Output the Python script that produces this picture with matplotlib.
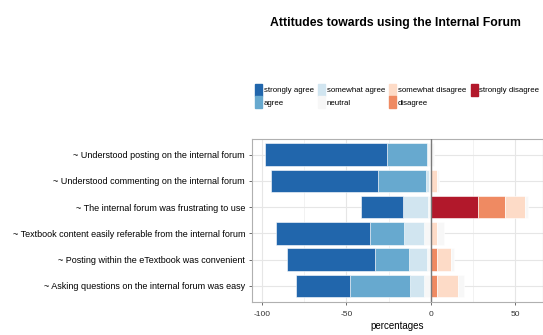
import matplotlib.pyplot as plt
import numpy as np

plt.rcParams['font.family'] = ['Liberation Sans', 'DejaVu Sans']

items = ["~ Understood posting on the internal forum",
         "~ Understood commenting on the internal forum",
         "~ The internal forum was frustrating to use",
         "~ Textbook content easily referable from the internal forum",
         "~ Posting within the eTextbook was convenient",
         "~ Asking questions on the internal forum was easy"]

levels = ["strongly agree", "agree", "somewhat agree", "neutral",
          "somewhat disagree", "disagree", "strongly disagree"]
colors = ["#2166AC", "#67A9CF", "#D1E5F0", "#F7F7F7",
          "#FDDBC7", "#EF8A62", "#B2182B"]

# percentages per item, in the order of levels
strongly_agree    = [72, 64, 25, 56, 52, 32]
agree             = [24, 28,  0, 20, 20, 36]
somewhat_agree    = [ 0,  2, 15, 12, 11,  8]
neutral           = [ 4,  2,  3,  8,  4,  8]
somewhat_disagree = [ 0,  4, 12,  4,  8, 12]
disagree          = [ 0,  0, 16,  0,  4,  4]
strongly_disagree = [ 0,  0, 28,  0,  0,  0]

fig = plt.figure(figsize=(5.43, 3.35), dpi=100)
ax = fig.add_axes([0.464, 0.100, 0.536, 0.485])

y = np.arange(len(items))[::-1] + 1
h = 0.86
na = np.array
half = na(neutral) / 2

# left side, stacked outward from zero
left_parts = [(half, colors[3]), (na(somewhat_agree), colors[2]),
              (na(agree), colors[1]), (na(strongly_agree), colors[0])]
start = np.zeros(len(items))
for vals, c in left_parts:
    ax.barh(y, -vals, left=-start, height=h, color=c, edgecolor='white', linewidth=0.4, zorder=3)
    start = start + vals

# right side, stacked outward from zero
right_parts = [(na(strongly_disagree), colors[6]), (na(disagree), colors[5]),
               (na(somewhat_disagree), colors[4]), (half, colors[3])]
start = np.zeros(len(items))
for vals, c in right_parts:
    ax.barh(y, vals, left=start, height=h, color=c, edgecolor='white', linewidth=0.4, zorder=3)
    start = start + vals

ax.axvline(0, color='#7a7a7a', lw=1.0, zorder=4)

ax.set_xlim(-106, 66.6)
ax.set_ylim(0.4, 6.6)
ax.set_xticks([-100, -50, 0, 50])
ax.set_xticklabels(["-100", "-50", "0", "50"])
ax.set_xticks([-75, -25, 25], minor=True)
ax.set_yticks(y)
ax.set_yticklabels(items, fontsize=6.5)
ax.tick_params(axis='x', labelsize=6, colors='#333333', length=2, width=0.5, pad=5)
ax.tick_params(axis='x', which='minor', length=0)
ax.tick_params(axis='y', length=2, width=0.5, colors='#333333', labelcolor='black', pad=3)
ax.grid(which='major', color='#e6e6e6', lw=0.8, zorder=0)
ax.grid(which='minor', axis='x', color='#f0f0f0', lw=0.6, zorder=0)
for s in ax.spines.values():
    s.set_color('#b0b0b0')
    s.set_linewidth(0.8)
ax.set_xlabel("percentages", fontsize=7, labelpad=2)

handles = [plt.Rectangle((0, 0), 1, 1, color=c) for c in colors]
fig.legend(handles, levels, loc='upper left', bbox_to_anchor=(0.462, 0.762),
           ncol=4, frameon=False, fontsize=5.7, handlelength=0.9, handleheight=2.0,
           handletextpad=0.2, columnspacing=0.55, labelspacing=0.0, borderpad=0)

fig.text(0.729, 0.932, "Attitudes towards using the Internal Forum",
         ha='center', va='center', fontsize=8.8, fontweight='bold')

fig.savefig("out.png", dpi=100)
